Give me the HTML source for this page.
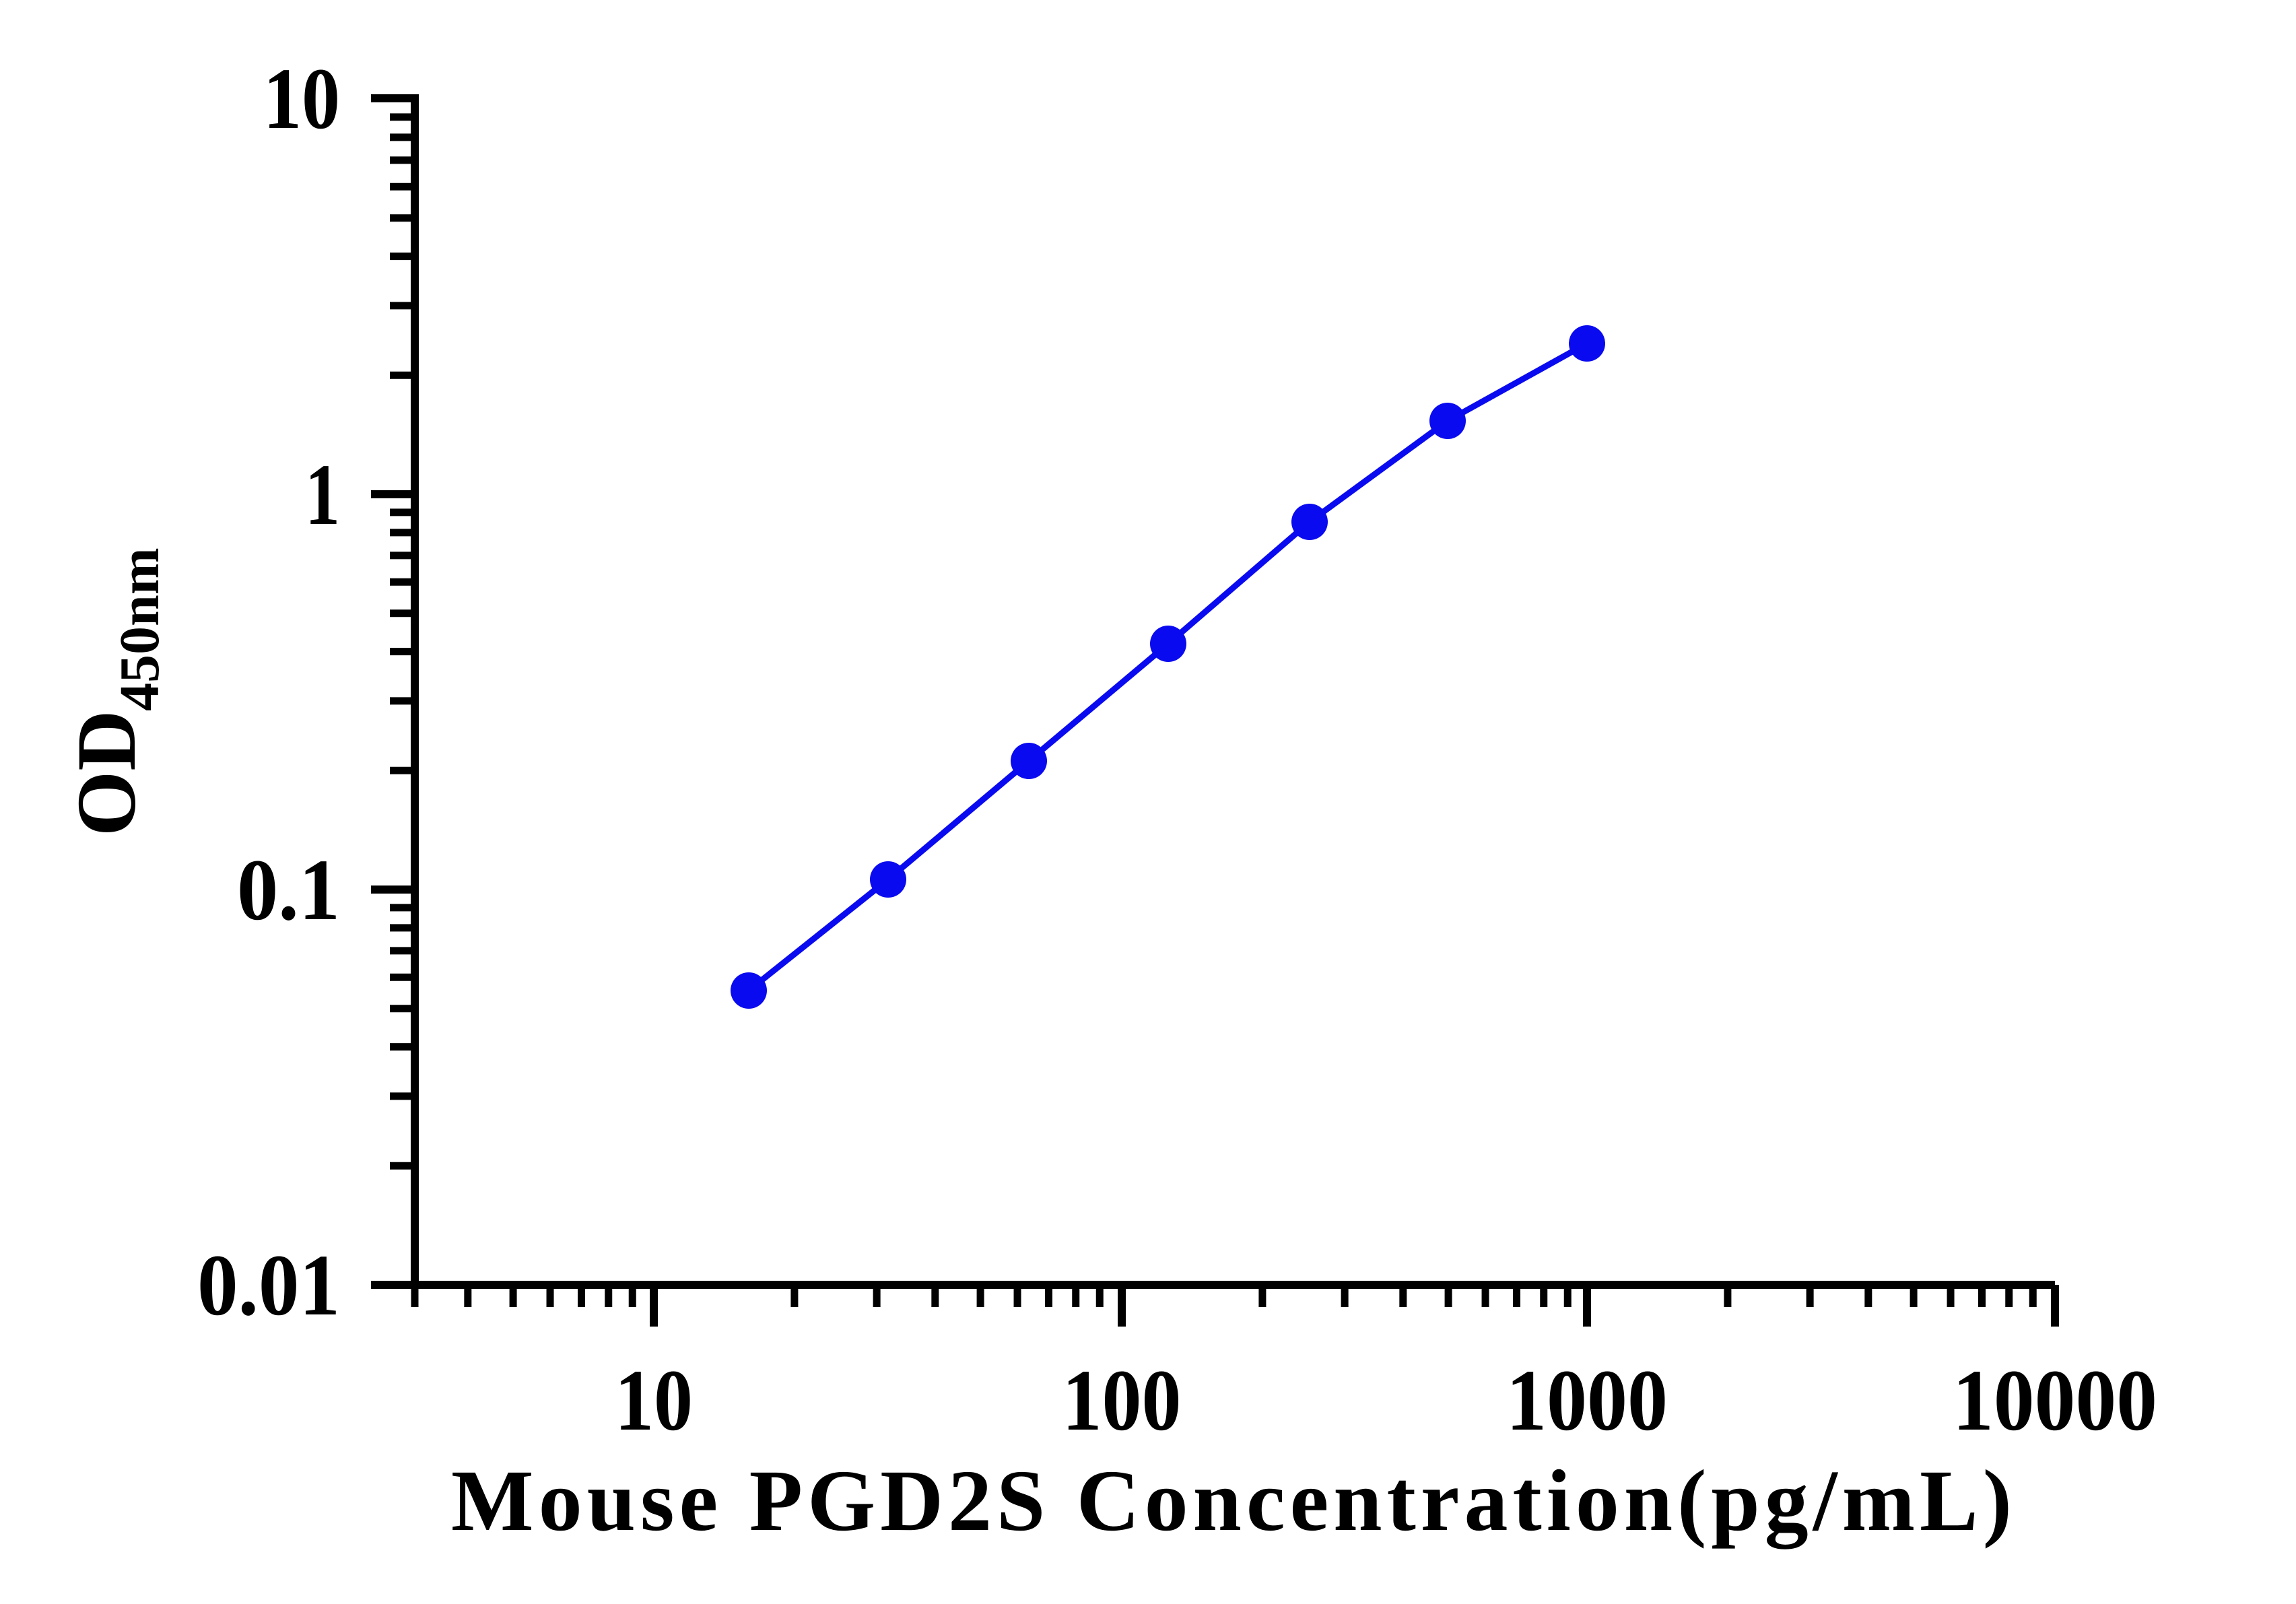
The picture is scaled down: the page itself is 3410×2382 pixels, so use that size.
<!DOCTYPE html>
<html><head><meta charset="utf-8"><style>html,body{margin:0;padding:0;background:#fff}svg{display:block}</style></head>
<body>
<svg width="3410" height="2382" viewBox="0 0 3410 2382" xmlns="http://www.w3.org/2000/svg" font-family="'Liberation Serif', serif" font-weight="bold">
<g stroke="#000" stroke-width="12" fill="none">
<line x1="616" y1="140" x2="616" y2="1914"/>
<line x1="610" y1="1908" x2="3052" y2="1908"/>
<line x1="551" y1="146" x2="616" y2="146"/>
<line x1="551" y1="734" x2="616" y2="734"/>
<line x1="551" y1="1321" x2="616" y2="1321"/>
<line x1="551" y1="1908" x2="616" y2="1908"/>
<line x1="971" y1="1908" x2="971" y2="1970"/>
<line x1="1666" y1="1908" x2="1666" y2="1970"/>
<line x1="2357" y1="1908" x2="2357" y2="1970"/>
<line x1="3052" y1="1908" x2="3052" y2="1970"/>
</g>
<g stroke="#000" stroke-width="11" id="minor"></g>
<g fill="#000" font-size="130" text-anchor="end">
<text x="505" y="190" textLength="114" lengthAdjust="spacingAndGlyphs">10</text>
<text x="505" y="778" textLength="52" lengthAdjust="spacingAndGlyphs">1</text>
<text x="505" y="1365" textLength="153" lengthAdjust="spacingAndGlyphs">0.1</text>
<text x="505" y="1952" textLength="212" lengthAdjust="spacingAndGlyphs">0.01</text>
</g>
<g fill="#000" font-size="130" text-anchor="middle">
<text x="971" y="2123" textLength="116" lengthAdjust="spacingAndGlyphs">10</text>
<text x="1666" y="2123" textLength="177" lengthAdjust="spacingAndGlyphs">100</text>
<text x="2357" y="2123" textLength="240" lengthAdjust="spacingAndGlyphs">1000</text>
<text x="3052" y="2123" textLength="304" lengthAdjust="spacingAndGlyphs">10000</text>
</g>
<text x="670" y="2272" font-size="130" textLength="2318" lengthAdjust="spacing" fill="#000">Mouse PGD2S Concentration(pg/mL)</text>
<g transform="translate(200,1242) rotate(-90)" fill="#000">
<text x="0" y="0" font-size="125">OD</text>
<text x="186" y="35" font-size="84">450nm</text>
</g>
<polyline fill="none" stroke="#0a0af0" stroke-width="9" points="1112,1471 1319,1306 1528,1130 1735,956 1945,775 2150,625 2357,510"/>
<g fill="#0a0af0">
<circle cx="1112" cy="1471" r="27"/><circle cx="1319" cy="1306" r="27"/><circle cx="1528" cy="1130" r="27"/>
<circle cx="1735" cy="956" r="27"/><circle cx="1945" cy="775" r="27"/><circle cx="2150" cy="625" r="27"/><circle cx="2357" cy="510" r="27"/>
</g>
<script>
var g=document.getElementById('minor'),ns='http://www.w3.org/2000/svg';
function L(a,b,c,d){var l=document.createElementNS(ns,'line');l.setAttribute('x1',a);l.setAttribute('y1',b);l.setAttribute('x2',c);l.setAttribute('y2',d);g.appendChild(l);}
var yd=[734,1321,1908];
for(var i=0;i<3;i++){for(var k=2;k<10;k++){var y=yd[i]-587*Math.log10(k);L(579,y,616,y);}}
var xd=[971,1666,2357];
for(var i=0;i<3;i++){for(var k=2;k<10;k++){var x=xd[i]+694*Math.log10(k);L(x,1908,x,1941);}}
for(var k=4;k<10;k++){var x=971-694*(1-Math.log10(k));L(x,1908,x,1941);}
L(616,1908,616,1941);
</script>
</svg>
</body></html>
